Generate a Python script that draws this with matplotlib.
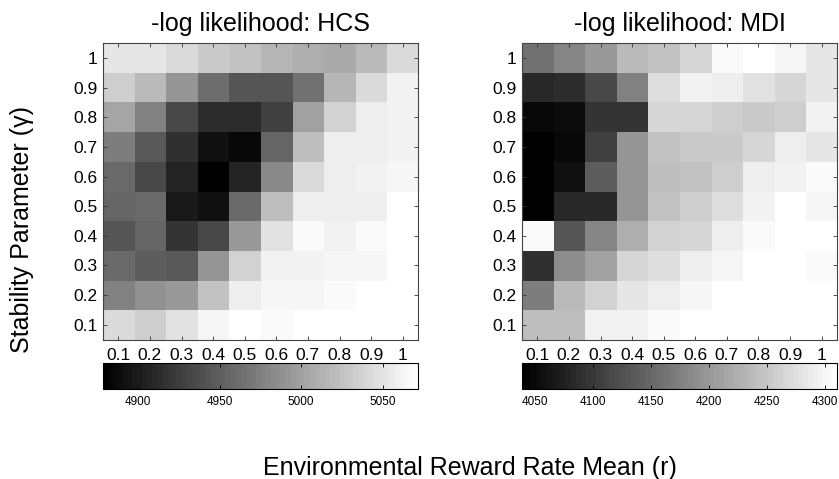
import matplotlib
matplotlib.use("Agg")
import matplotlib.pyplot as plt
import numpy as np

plt.rcParams["font.family"] = ["Liberation Sans", "DejaVu Sans"]

r_vals = [0.1, 0.2, 0.3, 0.4, 0.5, 0.6, 0.7, 0.8, 0.9, 1]
gamma_vals = [0.1, 0.2, 0.3, 0.4, 0.5, 0.6, 0.7, 0.8, 0.9, 1]
tick_labels = ["0.1", "0.2", "0.3", "0.4", "0.5", "0.6", "0.7", "0.8", "0.9", "1"]

# -log likelihood, rows listed from gamma = 1 (top) down to gamma = 0.1
hcs_nll = [
    [5053, 5053, 5042, 5030, 5026, 5015, 5011, 5007, 5019, 5042],
    [5034, 5019, 4992, 4962, 4943, 4943, 4965, 5015, 5042, 5061],
    [5004, 4977, 4935, 4912, 4912, 4927, 5000, 5038, 5057, 5061],
    [4973, 4946, 4916, 4893, 4886, 4954, 5022, 5057, 5057, 5061],
    [4958, 4935, 4908, 4878, 4908, 4984, 5042, 5057, 5061, 5064],
    [4954, 4958, 4897, 4893, 4958, 5022, 5057, 5057, 5057, 5072],
    [4943, 4954, 4920, 4935, 4996, 5049, 5068, 5061, 5067, 5072],
    [4958, 4950, 4946, 4992, 5038, 5061, 5061, 5064, 5064, 5072],
    [4977, 4988, 4996, 5026, 5057, 5064, 5064, 5068, 5072, 5072],
    [5042, 5034, 5049, 5064, 5072, 5068, 5072, 5072, 5072, 5072],
]
mdi_nll = [
    [4161, 4183, 4204, 4236, 4247, 4268, 4306, 4311, 4300, 4284],
    [4081, 4086, 4118, 4177, 4274, 4295, 4290, 4279, 4268, 4284],
    [4049, 4054, 4097, 4097, 4268, 4268, 4258, 4252, 4258, 4295],
    [4038, 4049, 4108, 4199, 4247, 4252, 4252, 4268, 4290, 4284],
    [4038, 4059, 4140, 4199, 4241, 4247, 4258, 4290, 4295, 4306],
    [4038, 4081, 4081, 4199, 4247, 4258, 4274, 4295, 4311, 4300],
    [4306, 4129, 4183, 4225, 4263, 4268, 4290, 4306, 4311, 4311],
    [4092, 4188, 4209, 4268, 4274, 4290, 4300, 4311, 4311, 4306],
    [4172, 4236, 4263, 4284, 4290, 4300, 4311, 4311, 4311, 4311],
    [4241, 4241, 4295, 4295, 4306, 4311, 4311, 4311, 4311, 4311],
]

hcs_range = (4878, 5072)
mdi_range = (4038, 4311)
hcs_cticks = [4900, 4950, 5000, 5050]
mdi_cticks = [4050, 4100, 4150, 4200, 4250, 4300]

cmap = plt.get_cmap("gray", 64)

fig = plt.figure(figsize=(8.39, 4.79), dpi=100)

panels = [
    ("-log likelihood: HCS", hcs_nll, hcs_range, hcs_cticks, 0.1222),
    ("-log likelihood: MDI", mdi_nll, mdi_range, mdi_cticks, 0.6216),
]

for title, data, (vmin, vmax), cticks, left in panels:
    ax = fig.add_axes([left, 0.2912, 0.3766, 0.6184])
    grid = np.array(data)[::-1]
    im = ax.imshow(grid, cmap=cmap, vmin=vmin, vmax=vmax, origin="lower",
                   interpolation="nearest", aspect="auto",
                   extent=[r_vals[0] - 0.05, r_vals[-1] + 0.05,
                           gamma_vals[0] - 0.05, gamma_vals[-1] + 0.05])
    ax.set_xticks(r_vals)
    ax.set_xticklabels(tick_labels, fontsize=12.5)
    ax.set_yticks(gamma_vals)
    ax.set_yticklabels(tick_labels, fontsize=12.5)
    ax.tick_params(direction="in", length=3, width=0.6, top=True, right=True,
                   color="#333333")
    ax.tick_params(axis="x", pad=6)
    ax.tick_params(axis="y", pad=3.5)
    for s in ax.spines.values():
        s.set_linewidth(0.8)
        s.set_color("#444444")
    ax.set_title(title, fontsize=18, pad=9)

    cax = fig.add_axes([left, 0.1879, 0.3766, 0.0543])
    cb = fig.colorbar(im, cax=cax, orientation="horizontal")
    cb.set_ticks(cticks)
    cb.ax.tick_params(labelsize=8.5, direction="in", length=3, width=0.6,
                      top=True, pad=5)
    cb.outline.set_linewidth(0.8)

fig.text(0.026, 0.52, "Stability Parameter (\u03b3)", rotation=90,
         ha="center", va="center", fontsize=18)
fig.text(0.560, 0.009, "Environmental Reward Rate Mean (r)",
         ha="center", va="baseline", fontsize=18)

fig.savefig("out.png", dpi=100)
